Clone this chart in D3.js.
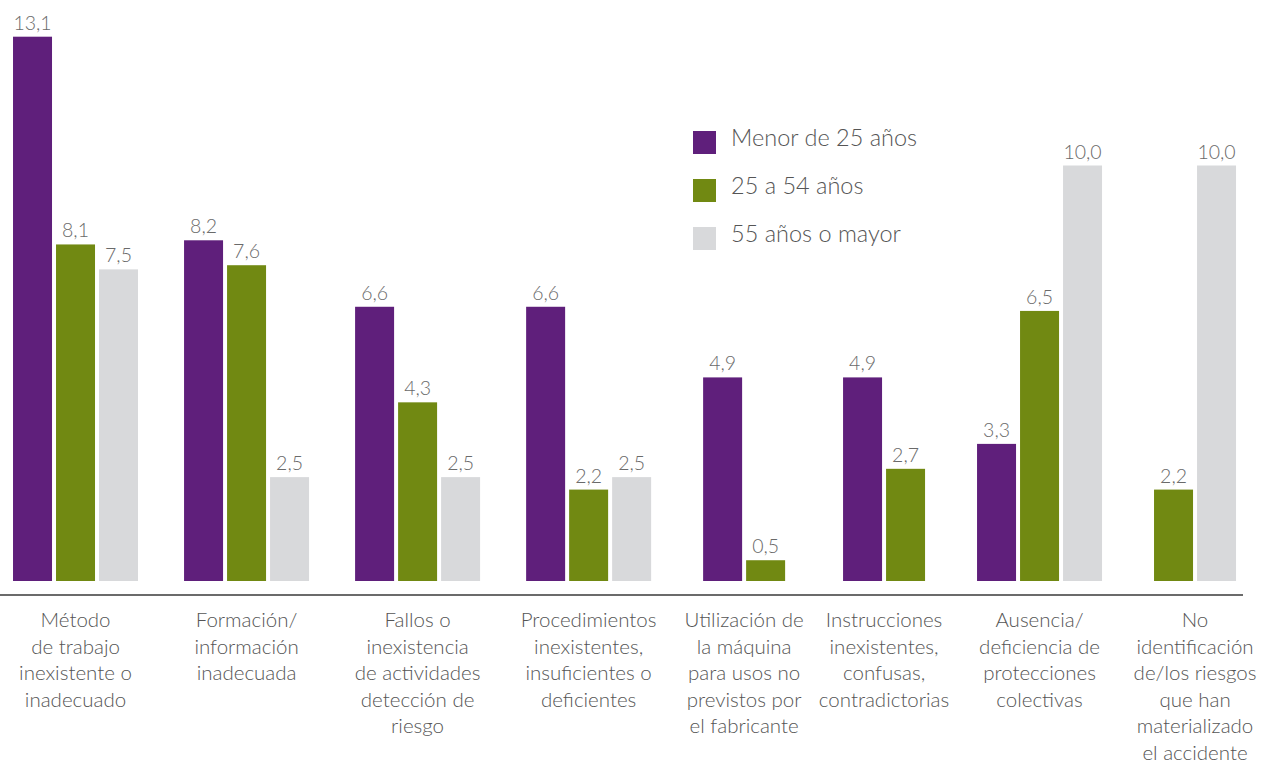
<!DOCTYPE html>
<html lang="es">
<head>
<meta charset="utf-8">
<script src="https://cdn.jsdelivr.net/npm/d3@7"></script>
<style>
  html, body { margin: 0; padding: 0; background: #fff; }
  svg { display: block; font-family: "Lato", "Open Sans", sans-serif; font-weight: 300; }
</style>
</head>
<body>
<svg id="chart" width="1268" height="763"></svg>
<script>
// Causas de accidentes por grupo de edad (%)
const categories = [
  ["Método", "de trabajo", "inexistente o", "inadecuado"],
  ["Formación/", "información", "inadecuada"],
  ["Fallos o", "inexistencia", "de actividades", "detección de", "riesgo"],
  ["Procedimientos", "inexistentes,", "insuficientes o", "deficientes"],
  ["Utilización de", "la máquina", "para usos no", "previstos por", "el fabricante"],
  ["Instrucciones", "inexistentes,", "confusas,", "contradictorias"],
  ["Ausencia/", "deficiencia de", "protecciones", "colectivas"],
  ["No", "identificación", "de/los riesgos", "que han", "materializado", "el accidente"]
];
const seriesNames = ["Menor de 25 años", "25 a 54 años", "55 años o mayor"];
const menor25 = [13.1, 8.2, 6.6, 6.6, 4.9, 4.9, 3.3, null];
const de25a54 = [8.1, 7.6, 4.3, 2.2, 0.5, 2.7, 6.5, 2.2];
const mayor55 = [7.5, 2.5, 2.5, 2.5, null, null, 10.0, 10.0];
const colors = ["#5f1f7b", "#718912", "#d8d9db"];

const series = [menor25, de25a54, mayor55];

const svg = d3.select("#chart");
const baseY = 581;
const barW = 39, barGap = 4;

const y = d3.scaleLinear().domain([0, 14]).range([baseY, baseY - 14 * 41.55]);

// each group keeps only its present bars; group slot grows with its bar count
const groups = categories.map((lines, i) => {
  const bars = series.map((s, k) => ({ k, v: s[i] })).filter(d => d.v != null);
  return { i, lines, bars, units: bars.length + 2.5 };
});
let acc = 0;
groups.forEach(g => { g.start = acc; acc += g.units; });
const x = d3.scaleLinear().domain([0, acc]).range([-10, 1265]);
groups.forEach(g => {
  g.cx = x(g.start + g.units / 2);
  const total = g.bars.length * (barW + barGap) - barGap;
  g.bars.forEach((b, j) => { b.x = g.cx - total / 2 + j * (barW + barGap); });
});

const gSel = svg.selectAll("g.group").data(groups).join("g").attr("class", "group");

gSel.selectAll("rect").data(g => g.bars).join("rect")
  .attr("x", d => d.x)
  .attr("y", d => y(d.v))
  .attr("width", barW)
  .attr("height", d => baseY - y(d.v))
  .attr("fill", d => colors[d.k]);

gSel.selectAll("text.val").data(g => g.bars).join("text")
  .attr("class", "val")
  .attr("x", d => d.x + barW / 2)
  .attr("y", d => y(d.v) - 7)
  .attr("text-anchor", "middle")
  .attr("font-size", 19.5)
  .attr("fill", "#6a6a6a")
  .text(d => d3.format(".1f")(d.v).replace(".", ","));

// baseline axis
svg.append("line")
  .attr("x1", 0).attr("x2", 1243)
  .attr("y1", 595).attr("y2", 595)
  .attr("stroke", "#6b6b6b").attr("stroke-width", 2);

// category labels
gSel.append("text")
  .attr("text-anchor", "middle")
  .attr("font-size", 20.5)
  .attr("fill", "#555")
  .selectAll("tspan").data(g => g.lines.map(l => ({ l, cx: g.cx }))).join("tspan")
  .attr("x", d => d.cx)
  .attr("y", (d, i) => 627 + i * 26.6)
  .text(d => d.l);

// legend
const leg = svg.append("g").attr("transform", "translate(693,131)");
const li = leg.selectAll("g").data(seriesNames).join("g")
  .attr("transform", (d, i) => `translate(0,${i * 48})`);
li.append("rect").attr("width", 23).attr("height", 23).attr("fill", (d, i) => colors[i]);
li.append("text").attr("x", 38).attr("y", 15)
  .attr("font-size", 23.5).attr("fill", "#555").text(d => d);
</script>
</body>
</html>
